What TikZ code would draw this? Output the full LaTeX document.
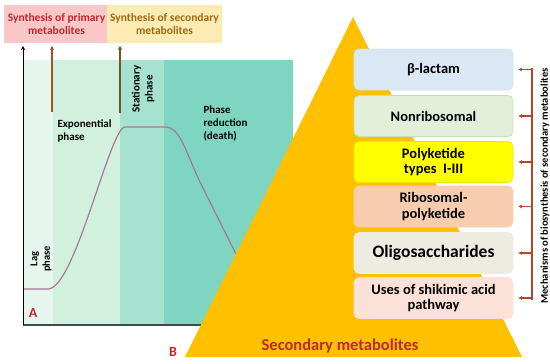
\documentclass[tikz,border=0pt]{standalone}
\usepackage{fontspec}
\setmainfont{Carlito}
\usetikzlibrary{arrows.meta}

\definecolor{rojo}{HTML}{C0282D}
\definecolor{ocre}{HTML}{A06A10}
\definecolor{oro}{HTML}{FFC000}
\definecolor{llave}{HTML}{B5462E}

\tikzset{
  caja/.style={rounded corners=5pt, minimum width=159pt, minimum height=41pt,
    align=center, font=\fontsize{14.5}{15.5}\selectfont\bfseries, line width=0.6pt},
  rotulo/.style={font=\fontsize{11}{13}\selectfont\bfseries, align=left},
  flecha/.style={-{Stealth[length=4pt,width=4pt]}, line width=1.3pt}
}

\begin{document}
\begin{tikzpicture}[x=1pt,y=-1pt]
\useasboundingbox (0,0) rectangle (550,364);

% Fases de crecimiento
\fill[fill={rgb,255:red,230;green,245;blue,238}] (23,60) rectangle (53,325);
\fill[fill={rgb,255:red,210;green,240;blue,222}] (53,60) rectangle (120,325);
\fill[fill={rgb,255:red,166;green,226;blue,207}] (120,60) rectangle (164,325);
\fill[fill={rgb,255:red,126;green,214;blue,193}] (164,60) rectangle (293,325);

% Curva de crecimiento
\draw[line width=1.2pt, color={rgb,255:red,170;green,120;blue,150}]
  (23,289) -- (48,289) .. controls (75,289) and (110,127) .. (125,127)
  -- (165,127) .. controls (180,127) and (185,150) .. (200,182) -- (236,254);

% Ejes
\coordinate (origen) at (23,325);
\coordinate (ytope) at (23,46);
\coordinate (xfin) at (205,325);
\draw[line width=1.5pt, color={rgb,255:red,60;green,75;blue,75}] (origen) -- (xfin);
\draw[-{Stealth[length=4pt,width=4pt]}, line width=1pt, black] (origen) -- (ytope);

% Cajas superiores
\node[fill={rgb,255:red,248;green,200;blue,200}, text=rojo, minimum width=103pt,
  minimum height=38pt, align=center, font=\fontsize{11.5}{13}\selectfont\bfseries]
  (primario) at (56.5,24) {Synthesis of primary\\metabolites};
\node[fill={rgb,255:red,253;green,235;blue,180}, text=ocre, minimum width=105pt,
  minimum height=38pt, align=center, font=\fontsize{11.5}{13}\selectfont\bfseries]
  (secundario) at (164.5,24) {Synthesis of secondary\\metabolites};

% Flechas hacia las cajas
\coordinate (expbase) at (52,112);
\coordinate (estbase) at (120,113);
\draw[flecha, color={rgb,255:red,160;green,82;blue,45}] (expbase) -- (52,46);
\draw[flecha, color={rgb,255:red,110;green,90;blue,30}] (estbase) -- (120,46);

% Rotulos de fases
\node[rotulo, rotate=90, align=center, font=\fontsize{10.5}{12.5}\selectfont\bfseries]
  (lag) at (41,259) {Lag\\phase};
\node[rotulo, anchor=west] (expo) at (54,131) {Exponential\\phase};
\node[rotulo, rotate=90, align=center] (estac) at (143,89) {Stationary\\phase};
\node[rotulo, anchor=west] (muerte) at (200,123) {Phase\\reduction\\(death)};
\node[text=rojo, font=\fontsize{14}{14}\selectfont\bfseries] (letraA) at (33,313) {A};

% Piramide
\fill[oro] (353,17) -- (522,357) -- (185,357) -- cycle;
\node[text=rojo, font=\fontsize{14}{14}\selectfont\bfseries] (letraB) at (173,352) {B};
\node[text=rojo, font=\fontsize{16.5}{17}\selectfont\bfseries] (secmet) at (340,346)
  {Secondary metabolites};

% Mecanismos
\node[caja, fill={rgb,255:red,218;green,232;blue,245}, draw={rgb,255:red,210;green,225;blue,240}]
  (blac) at (433.5,69.5) {β-lactam};
\node[caja, fill={rgb,255:red,226;green,240;blue,217}, draw={rgb,255:red,197;green,224;blue,180}]
  (nonrib) at (433.5,116) {Nonribosomal};
\node[caja, fill={rgb,255:red,255;green,255;blue,0}, draw={rgb,255:red,240;green,230;blue,0}]
  (polik) at (433.5,162) {Polyketide\\types\ \ I-III};
\node[caja, fill={rgb,255:red,248;green,205;blue,175}, draw={rgb,255:red,248;green,205;blue,175}]
  (ribo) at (433.5,206.5) {Ribosomal-\\polyketide};
\node[caja, fill={rgb,255:red,238;green,236;blue,225}, draw={rgb,255:red,238;green,236;blue,225},
  font=\fontsize{17.5}{18}\selectfont\bfseries]
  (oligo) at (433.5,253) {Oligosaccharides};
\node[caja, fill={rgb,255:red,251;green,225;blue,215}, draw={rgb,255:red,251;green,225;blue,215}]
  (shik) at (433.5,298) {Uses of shikimic acid\\pathway};

% Llave con flechas
\coordinate (ltop) at (532,68);
\coordinate (lbot) at (532,300);
\draw[llave, line width=1.3pt] (ltop) -- (lbot);
\foreach \caja in {blac,nonrib,polik,ribo,oligo,shik} {
  \draw[llave, line width=1.3pt, -{Stealth[length=4pt,width=4pt]}]
    (532,0 |- \caja.east) -- ([xshift=5pt]\caja.east);
}
\node[rotate=90, font=\fontsize{10.5}{12}\selectfont\bfseries] (mecan) at (545,186)
  {Mechanisms of biosynthesis of secondary metabolites};
\end{tikzpicture}
\end{document}
